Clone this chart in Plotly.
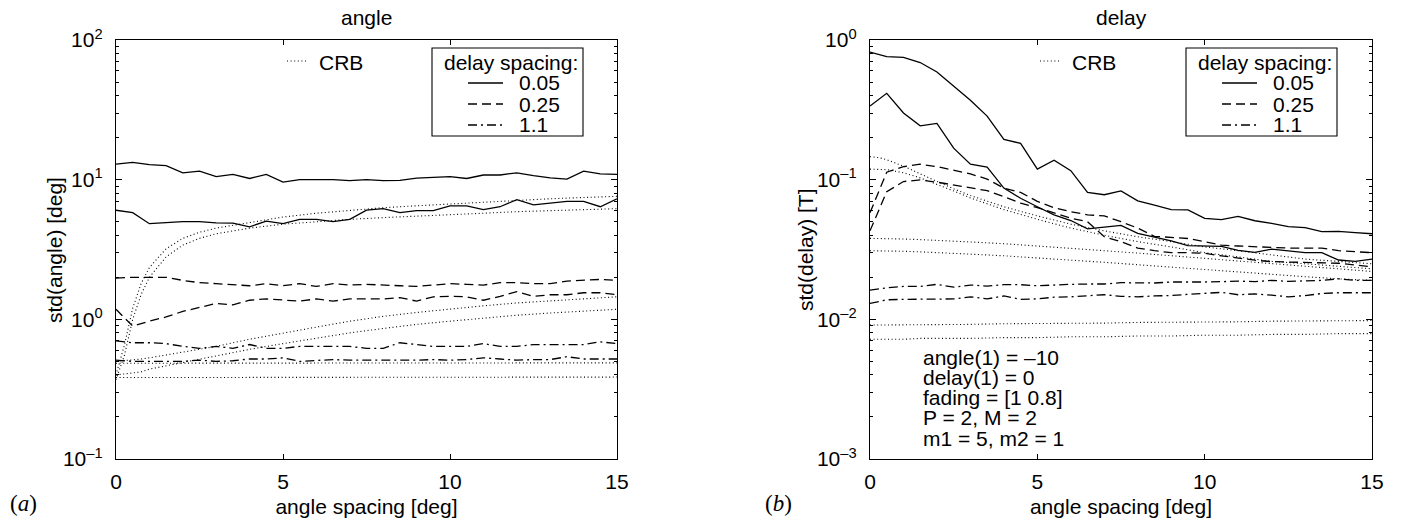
import plotly.graph_objects as go

# ---------------- data ----------------
spacing = [0, 0.5, 1, 1.5, 2, 2.5, 3, 3.5, 4, 4.5, 5, 5.5, 6, 6.5, 7, 7.5,
           8, 8.5, 9, 9.5, 10, 10.5, 11, 11.5, 12, 12.5, 13, 13.5, 14, 14.5, 15]
crb_spacing = [0, 0.25, 0.5, 0.75, 1, 1.5, 2, 2.5, 3, 4, 5, 6, 7, 8, 9, 10,
               11, 12, 13, 14, 15]

# angle estimates, std(angle) [deg]
ang_005_a = [12.9, 13.3, 12.8, 12.6, 11.2, 11.5, 10.5, 10.9, 10.2, 10.9, 9.6, 10.0, 10.0, 10.0, 9.85, 10.0,
             9.85, 9.9, 10.25, 10.4, 10.5, 10.2, 10.8, 10.8, 11.2, 10.7, 10.3, 10.1, 11.5, 11.0, 10.9]
ang_005_b = [6.04, 5.8, 4.84, 4.95, 5.0, 5.0, 4.9, 4.88, 4.6, 5.05, 4.85, 5.2, 5.2, 5.0, 5.2, 6.05,
             6.2, 5.8, 6.0, 6.0, 6.5, 6.5, 6.1, 6.4, 7.2, 6.6, 6.8, 7.0, 7.0, 6.4, 7.3]
ang_025_a = [1.97, 2.0, 2.0, 2.0, 1.9, 1.83, 1.8, 1.78, 1.74, 1.8, 1.74, 1.8, 1.72, 1.8, 1.76, 1.78,
             1.75, 1.74, 1.72, 1.76, 1.8, 1.78, 1.76, 1.83, 1.83, 1.8, 1.8, 1.88, 1.9, 1.93, 1.9]
ang_025_b = [1.18, 0.895, 0.97, 1.04, 1.14, 1.22, 1.30, 1.27, 1.37, 1.40, 1.37, 1.35, 1.40, 1.35, 1.40, 1.40,
             1.40, 1.43, 1.35, 1.45, 1.46, 1.45, 1.37, 1.46, 1.58, 1.46, 1.5, 1.5, 1.55, 1.55, 1.5]
ang_11_a = [0.70, 0.68, 0.68, 0.67, 0.64, 0.62, 0.64, 0.62, 0.66, 0.62, 0.62, 0.64, 0.64, 0.64, 0.64, 0.62,
            0.62, 0.68, 0.66, 0.64, 0.64, 0.64, 0.67, 0.64, 0.64, 0.66, 0.66, 0.66, 0.66, 0.69, 0.67]
ang_11_b = [0.51, 0.50, 0.50, 0.50, 0.50, 0.51, 0.50, 0.505, 0.52, 0.52, 0.53, 0.50, 0.51, 0.515, 0.51, 0.51,
            0.51, 0.505, 0.51, 0.515, 0.51, 0.515, 0.53, 0.52, 0.51, 0.515, 0.515, 0.54, 0.52, 0.52, 0.52]

ang_crb = [
    [0.40, 0.65, 1.2, 1.8, 2.35, 3.2, 3.8, 4.2, 4.5, 4.95, 5.4, 5.75, 6.05, 6.3, 6.5, 6.7, 6.9, 7.1, 7.3, 7.45, 7.6],
    [0.37, 0.55, 1.0, 1.5, 2.0, 2.8, 3.4, 3.8, 4.1, 4.5, 4.8, 5.0, 5.2, 5.35, 5.5, 5.6, 5.75, 5.9, 6.0, 6.1, 6.2],
    [0.50, 0.505, 0.51, 0.52, 0.53, 0.555, 0.58, 0.61, 0.64, 0.72, 0.80, 0.88, 0.97, 1.05, 1.12, 1.19, 1.25, 1.31, 1.36, 1.41, 1.45],
    [0.40, 0.405, 0.41, 0.42, 0.44, 0.465, 0.49, 0.52, 0.55, 0.61, 0.67, 0.73, 0.80, 0.86, 0.92, 0.97, 1.02, 1.07, 1.11, 1.15, 1.18],
    [0.485, 0.485, 0.485, 0.485, 0.485, 0.485, 0.485, 0.485, 0.485, 0.485, 0.485, 0.485, 0.486, 0.486, 0.486, 0.486, 0.487, 0.487, 0.487, 0.488, 0.488],
    [0.383, 0.383, 0.383, 0.383, 0.383, 0.383, 0.383, 0.383, 0.384, 0.384, 0.384, 0.384, 0.384, 0.385, 0.385, 0.385, 0.385, 0.386, 0.386, 0.386, 0.386],
]

# delay estimates, std(delay) [T]
del_005_a = [0.82, 0.76, 0.75, 0.69, 0.59, 0.47, 0.37, 0.285, 0.194, 0.182, 0.119, 0.138, 0.116, 0.081, 0.078, 0.083,
             0.0706, 0.0658, 0.061, 0.0607, 0.0529, 0.0518, 0.0545, 0.0508, 0.0487, 0.0461, 0.0453, 0.0424, 0.0427, 0.0418, 0.041]
del_005_b = [0.337, 0.415, 0.30, 0.243, 0.253, 0.168, 0.129, 0.123, 0.087, 0.0736, 0.064, 0.056, 0.051, 0.0445, 0.0457, 0.047,
             0.0412, 0.0389, 0.0364, 0.0337, 0.0337, 0.0333, 0.0312, 0.0302, 0.0318, 0.031, 0.030, 0.030, 0.0266, 0.026, 0.027]
del_025_a = [0.058, 0.113, 0.124, 0.129, 0.124, 0.117, 0.110, 0.101, 0.087, 0.081, 0.070, 0.063, 0.059, 0.056, 0.055, 0.050,
             0.045, 0.0393, 0.0385, 0.0379, 0.036, 0.034, 0.0335, 0.033, 0.0328, 0.0324, 0.0324, 0.0324, 0.031, 0.0305, 0.030]
del_025_b = [0.043, 0.082, 0.097, 0.0995, 0.096, 0.0917, 0.088, 0.0834, 0.0755, 0.068, 0.063, 0.058, 0.053, 0.050, 0.039, 0.036,
             0.0324, 0.031, 0.030, 0.030, 0.0297, 0.0285, 0.0274, 0.0265, 0.0259, 0.0257, 0.0255, 0.0253, 0.0252, 0.0245, 0.0238]
del_11_a = [0.0162, 0.0168, 0.0172, 0.0172, 0.0178, 0.017, 0.0176, 0.0173, 0.0177, 0.0177, 0.0174, 0.0177, 0.0178, 0.0179, 0.0179, 0.0183,
            0.0183, 0.0182, 0.0185, 0.0184, 0.0185, 0.0186, 0.0188, 0.0186, 0.019, 0.0187, 0.0188, 0.019, 0.0195, 0.019, 0.019]
del_11_b = [0.013, 0.0138, 0.0139, 0.0139, 0.014, 0.014, 0.0145, 0.014, 0.0147, 0.0139, 0.014, 0.0144, 0.0145, 0.0147, 0.015, 0.0146,
            0.0145, 0.0147, 0.0148, 0.0151, 0.0154, 0.0156, 0.015, 0.0152, 0.0149, 0.0145, 0.0148, 0.0153, 0.0155, 0.0155, 0.0155]

del_crb = [
    [0.146, 0.144, 0.139, 0.132, 0.125, 0.11, 0.097, 0.086, 0.077, 0.064, 0.055, 0.048, 0.043, 0.039, 0.036, 0.033, 0.031, 0.029, 0.027, 0.026, 0.025],
    [0.119, 0.119, 0.118, 0.115, 0.112, 0.103, 0.093, 0.083, 0.074, 0.061, 0.052, 0.045, 0.040, 0.036, 0.033, 0.030, 0.028, 0.026, 0.025, 0.024, 0.023],
    [0.038, 0.038, 0.038, 0.0378, 0.0376, 0.0372, 0.0368, 0.0363, 0.0358, 0.0348, 0.0336, 0.0323, 0.031, 0.0298, 0.0286, 0.0274, 0.0262, 0.0251, 0.024, 0.023, 0.022],
    [0.031, 0.031, 0.031, 0.0308, 0.0307, 0.0304, 0.0301, 0.0297, 0.0293, 0.0285, 0.0276, 0.0266, 0.0256, 0.0246, 0.0236, 0.0227, 0.0218, 0.021, 0.0202, 0.0195, 0.019],
    [0.0091, 0.0091, 0.0091, 0.0091, 0.0091, 0.0092, 0.0092, 0.0092, 0.0092, 0.0093, 0.0093, 0.0094, 0.0094, 0.0095, 0.0095, 0.0096, 0.0096, 0.0097, 0.0097, 0.0098, 0.0098],
    [0.0072, 0.0072, 0.0072, 0.0072, 0.0072, 0.0073, 0.0073, 0.0073, 0.0073, 0.0074, 0.0074, 0.0075, 0.0075, 0.0076, 0.0076, 0.0077, 0.0077, 0.0078, 0.0078, 0.0079, 0.0079],
]

legend_title = "delay spacing:"
legend_labels = ["0.05", "0.25", "1.1"]
info_lines = ["angle(1) = \u201310", "delay(1) = 0", "fading = [1 0.8]", "P = 2, M = 2", "m1 = 5, m2 = 1"]

# ---------------- styling ----------------
W, H = 1401, 526
FONT = "Liberation Sans, Arial, Helvetica, sans-serif"
FS = 21
SOLID = "solid"
DASH = "9px,5px"
DASHDOT = "9px,4px,2px,4px"
DOT = "1px,2.6px"


def px(x):
    return x / W


def py(y):
    return 1 - y / H


fig = go.Figure()


def add_line(xs, ys, dash, ax, width=1.3):
    fig.add_trace(go.Scatter(
        x=xs, y=ys, mode="lines", xaxis=ax[0], yaxis=ax[1], showlegend=False,
        line=dict(color="black", width=width, dash=dash), hoverinfo="skip"))


for ax, sets, crb in [
    (("x", "y"), [(ang_005_a, SOLID), (ang_005_b, SOLID), (ang_025_a, DASH), (ang_025_b, DASH),
                  (ang_11_a, DASHDOT), (ang_11_b, DASHDOT)], ang_crb),
    (("x2", "y2"), [(del_005_a, SOLID), (del_005_b, SOLID), (del_025_a, DASH), (del_025_b, DASH),
                    (del_11_a, DASHDOT), (del_11_b, DASHDOT)], del_crb),
]:
    for c in crb:
        add_line(crb_spacing, c, DOT, ax, width=1.1)
    for ys, dash in sets:
        add_line(spacing, ys, dash, ax)


def dec_label(e):
    return "10<sup>" + ("\u2013" + str(-e) if e < 0 else str(e)) + "</sup>"


xcommon = dict(range=[0, 15], tickvals=[0, 5, 10, 15], ticks="inside", ticklen=5, tickwidth=1,
               tickcolor="black", showline=True, linecolor="black", linewidth=1.3, mirror="ticks",
               showgrid=False, zeroline=False, automargin=False,
               tickfont=dict(family=FONT, size=FS, color="black"), ticklabelstandoff=4,
               title=dict(text="angle spacing [deg]", font=dict(family=FONT, size=FS, color="black"), standoff=6))


def yaxis(lo, hi):
    vals = [10 ** e for e in range(lo, hi + 1)]
    return dict(type="log", range=[lo, hi], tickvals=vals, ticktext=[dec_label(e) for e in range(lo, hi + 1)],
                ticks="inside", ticklen=6, tickwidth=1, tickcolor="black", showline=True, linecolor="black",
                linewidth=1.3, mirror="ticks", showgrid=False, zeroline=False, automargin=False,
                tickfont=dict(family=FONT, size=FS, color="black"), ticklabelstandoff=8,
                minor=dict(ticks="inside", ticklen=3, tickwidth=1, tickcolor="black", dtick="D1", showgrid=False))


fig.update_layout(
    template="none",
    width=W, height=H, margin=dict(l=0, r=0, t=0, b=0, pad=0, autoexpand=False),
    paper_bgcolor="white", plot_bgcolor="white", showlegend=False,
    font=dict(family=FONT, size=FS, color="black"),
    xaxis=dict(domain=[px(116), px(617)], anchor="y", **xcommon),
    yaxis=dict(domain=[py(459), py(40)], anchor="x", **yaxis(-1, 2)),
    xaxis2=dict(domain=[px(870), px(1372)], anchor="y2", **xcommon),
    yaxis2=dict(domain=[py(459), py(40)], anchor="x2", **yaxis(-3, 0)),
)

shapes = []
annos = []


def text(x, y, s, anchor="left", size=FS, family=FONT, angle=0):
    annos.append(dict(x=px(x), y=py(y), xref="paper", yref="paper", text=s, showarrow=False,
                      xanchor=anchor, yanchor="middle", textangle=angle,
                      font=dict(family=family, size=size, color="black")))


def seg(x0, x1, y, dash, width=1.3):
    shapes.append(dict(type="line", xref="paper", yref="paper", x0=px(x0), x1=px(x1), y0=py(y), y1=py(y),
                       line=dict(color="black", width=width, dash=dash)))


# subplot titles and y-axis titles
text(366.5, 17, "angle", anchor="center")
text(1121, 17, "delay", anchor="center")
text(55, 250, "std(angle) [deg]", anchor="center", angle=-90)
text(806, 250, "std(delay) [T]", anchor="center", angle=-90)

# legends for both panels
for crb_x, box_x in [(287, 432), (1040, 1186)]:
    seg(crb_x, crb_x + 20, 61, DOT, width=1.1)
    text(crb_x + 30, 62, "CRB")
    shapes.append(dict(type="rect", xref="paper", yref="paper", x0=px(box_x), x1=px(box_x + 151),
                       y0=py(136), y1=py(48), line=dict(color="black", width=1.1), fillcolor="white"))
    text(box_x + 10, 63, legend_title)
    for k, (lab, dash) in enumerate(zip(legend_labels, [SOLID, DASH, DASHDOT])):
        yk = 83 + 21 * k
        seg(box_x + 36, box_x + 71, yk, dash)
        text(box_x + 85, yk, lab)

# parameter block
for k, s in enumerate(info_lines):
    text(921, 357 + 20.3 * k, s)

# panel labels
text(23, 503, "(<i>a</i>)", anchor="center", size=23, family="Liberation Serif, serif")
text(778, 503, "(<i>b</i>)", anchor="center", size=23, family="Liberation Serif, serif")

fig.update_layout(shapes=shapes, annotations=annos)
fig.write_html("out.html")
